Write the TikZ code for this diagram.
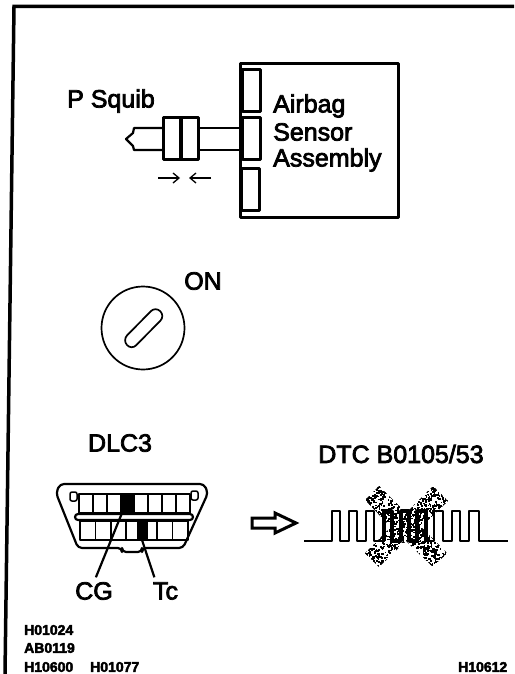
\documentclass[tikz,border=0pt]{standalone}
\usepackage{fontspec}
\usetikzlibrary{arrows.meta}
\setmainfont{Liberation Sans}
\newfontfamily\scanfont[FakeBold=3]{Liberation Sans}
\newfontfamily\codefont[FakeBold=3]{Liberation Sans Bold}
\tikzset{
  ink/.style={draw=black,line width=2.2pt,line join=round},
  heavy/.style={draw=black,line width=3pt,line join=round},
  lbl/.style={inner sep=0pt,font=\scanfont\fontsize{25}{29}\selectfont},
  code/.style={inner sep=0pt,anchor=west,font=\codefont\fontsize{14}{16}\selectfont},
}
\begin{document}
\begin{tikzpicture}[x=1pt,y=-1pt]
\useasboundingbox (0,0) rectangle (514,674);
\fill[white] (0,0) rectangle (514,674);
% frame
\draw[line width=3.5pt] (5,674) -- (14,6.5) -- (514,6.5);
% sensor assembly
\draw[heavy] (240,64) rectangle (398,217);
\draw[heavy] (242,70) rectangle (260,112);
\draw[heavy] (242,118) rectangle (260,159);
\draw[heavy] (241,168) rectangle (259,210);
\node[lbl,anchor=west] (airbag) at (273,106) {Airbag};
\node[lbl,anchor=west] (sensor) at (273,132) {Sensor};
\node[lbl,anchor=west] (assembly) at (273,160) {Assembly};
% squib connector
\node[lbl,anchor=west] (psquib) at (67,101) {P Squib};
\draw[heavy] (163,118) rectangle (198,159);
\draw[line width=4pt] (180.5,118) -- (180.5,159);
\draw[ink] (198,128) -- (241,128) (198,150) -- (241,150);
\draw[ink] (163,128) -- (134,128) -- (133,133) -- (126,139) -- (133,146) -- (134,150) -- (163,150);
\coordinate (al) at (158,178); \coordinate (ar) at (211,178);
\coordinate (bl) at (180,178); \coordinate (br) at (189,178);
\draw[line width=1.3pt,-{Straight Barb[length=6pt,width=10pt]}] (al) -- (bl);
\draw[line width=1.3pt,-{Straight Barb[length=6pt,width=10pt]}] (ar) -- (br);
% ignition key
\node[lbl,anchor=center] (on) at (203,281) {ON};
\draw[line width=1.7pt] (143,328) circle (41.5);
\draw[line width=1.7pt,rounded corners=6.5pt] (122.5,340) -- (155.5,306.5) -- (165,316) -- (131.5,350) -- cycle;
% DLC3
\node[lbl] (dlc) at (120,443) {DLC3};
\draw[ink,rounded corners=4pt] (60,484) -- (204,484) -- (208,493) -- (183,548) -- (142,548) -- (142,552) -- (122,552) -- (122,548) -- (78,548) -- (56,493) -- cycle;
\draw[line width=1.5pt,rounded corners=2pt] (70,492) rectangle (77,501);
\draw[line width=1.5pt,rounded corners=2pt] (191,491) rectangle (198,500);
\draw[ink] (79,494) rectangle (190,513);
\draw[ink] (80,521) rectangle (188,540);
\foreach \i in {1,...,7}{\draw[line width=1.8pt] ({79+\i*111/8},494) -- ({79+\i*111/8},513);}
\foreach \i in {1,...,6}{\draw[line width=1.8pt] ({80+\i*108/7},521) -- ({80+\i*108/7},540);}
\fill (122,494) rectangle (135,513);
\fill (137,521) rectangle (148,541);
\draw[ink,rounded corners=3pt] (75,514) rectangle (193,520);
\node[lbl] (cg) at (94,591) {CG};
\node[lbl] (tc) at (165.5,591) {Tc};
\coordinate (cgp) at (122,513); \coordinate (tcp) at (142,540);
\draw[ink,shorten >=5pt] (cgp) -- (cg.north);
\draw[ink,shorten >=5pt] (tcp) -- (tc.north -| 156,0);
% no-go waveform
\node[lbl,anchor=center] (dtc) at (401,454) {DTC B0105/53};
\begin{scope}
\clip (365,500) -- (379,486) -- (406,513) -- (433,486) -- (448,501) -- (421,527) -- (447,553) -- (433,567) -- (406,541) -- (379,567) -- (365,553) -- (391,527) -- cycle;
\pgfmathsetseed{42}
\foreach \i in {1,...,1900}{
  \pgfmathsetmacro\px{360+92*rnd}
  \pgfmathsetmacro\py{482+90*rnd}
  \fill (\px,\py) rectangle ++(1.7,1.7);
}
\end{scope}
\draw[ink] (304,541) -- (332,541) -- (332,511) -- (340,511) -- (340,541) -- (349,541) -- (349,511) -- (357,511) -- (357,541) -- (366,541) -- (366,511) -- (374,511) -- (374,541) -- (384,541) -- (384,511) -- (392,511) -- (392,541) -- (401,541) -- (401,511) -- (409,511) -- (409,541) -- (417,541) -- (417,511) -- (426,511) -- (426,541) -- (434,541) -- (434,511) -- (443,511) -- (443,541) -- (452,541) -- (452,511) -- (460,511) -- (460,541) -- (469,541) -- (469,511) -- (479,511) -- (479,541) -- (508,541);
\draw[line width=3.6pt,line join=round] (384,541) -- (384,511) -- (392,511) -- (392,541) -- (401,541) -- (401,511) -- (409,511) -- (409,541) -- (417,541) -- (417,511) -- (426,511) -- (426,541);
\draw[line width=3pt,line join=miter] (252,518) -- (275,518) -- (275,513) -- (296,523) -- (275,533) -- (275,528) -- (252,528) -- cycle;
% codes
\node[code] (c1) at (24,630) {H01024};
\node[code] (c2) at (24,648) {AB0119};
\node[code] (c3) at (24,667) {H10600};
\node[code] (c4) at (90,667) {H01077};
\node[code] (c5) at (458,667) {H10612};
\end{tikzpicture}
\end{document}
